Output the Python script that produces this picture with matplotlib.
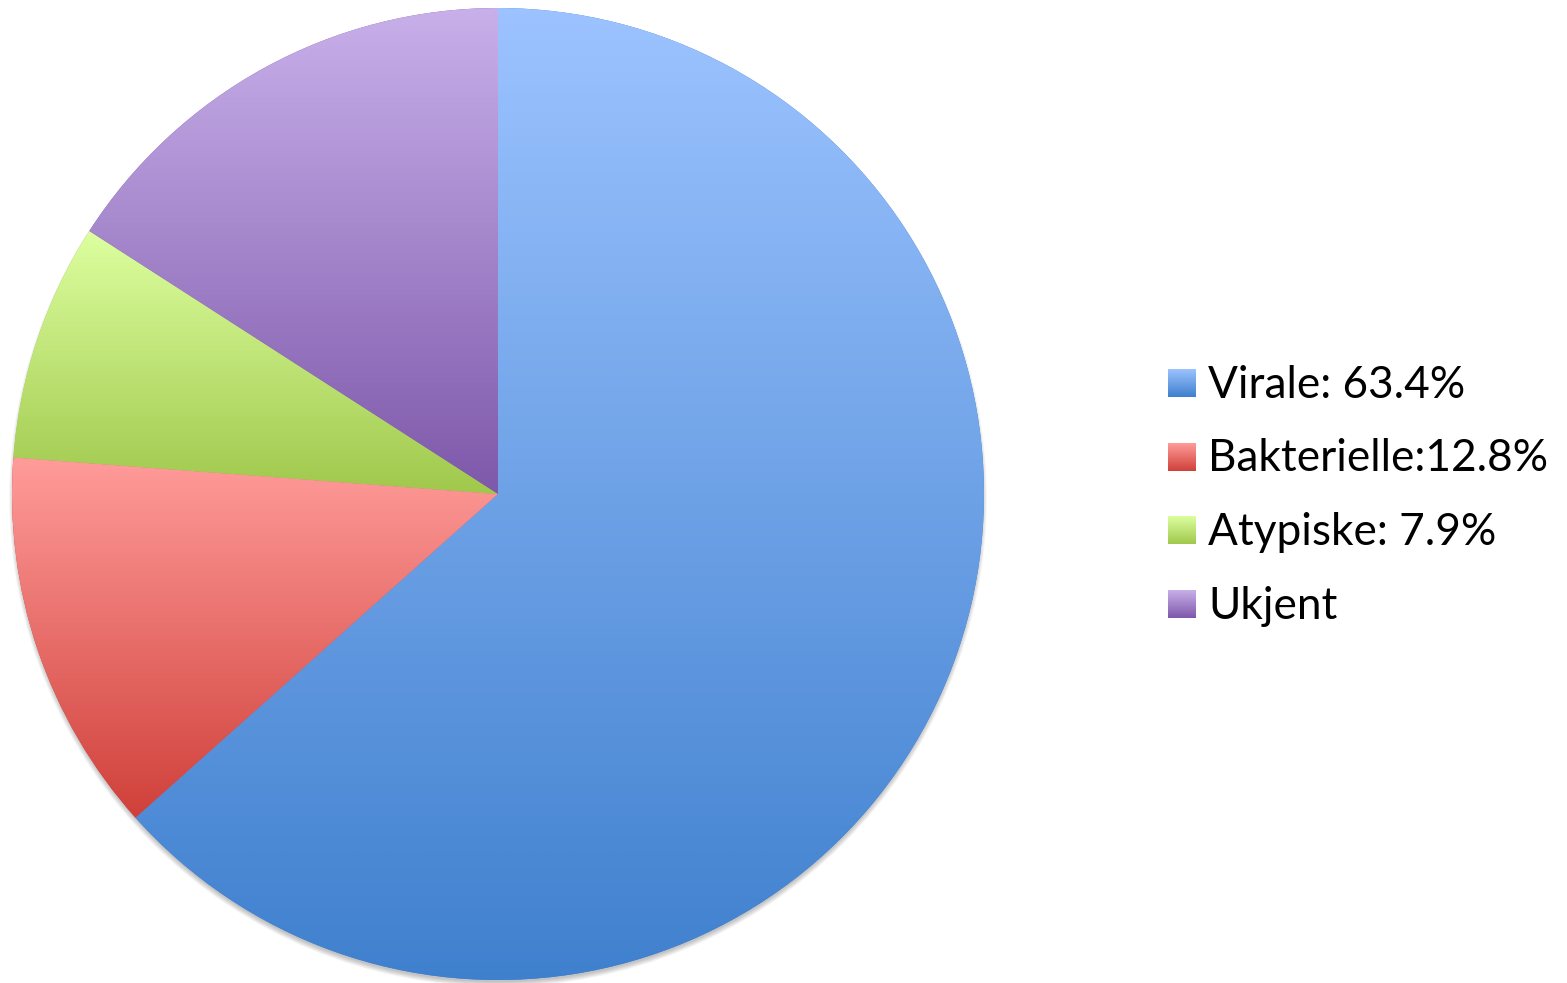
import matplotlib.pyplot as plt
import numpy as np
from matplotlib.colors import LinearSegmentedColormap
from matplotlib.patches import Circle

labels = ['Virale: 63.4%', 'Bakterielle:12.8%', 'Atypiske: 7.9%', 'Ukjent']
values = [63.4, 12.8, 7.9, 15.9]
top_colors = ['#9cc3ff', '#ff9c9a', '#ddffa0', '#c8b0ea']
bottom_colors = ['#3f80ce', '#d0403a', '#a0c84c', '#7e58aa']

W, H = 1567, 983
fig = plt.figure(figsize=(W / 100, H / 100), dpi=100)
ax = fig.add_axes([0, 0, 1, 1])

cx, cy, R = 498, 489, 486

# soft drop shadow under the pie
for k in range(8):
    ax.add_patch(Circle((cx, cy - 4), R - 2 + k * 0.7, color='black', alpha=0.03, lw=0, zorder=0))

wedges, _ = ax.pie(values, startangle=90, counterclock=False,
                   center=(cx, cy), radius=R,
                   wedgeprops=dict(linewidth=0))

grad = np.linspace(0, 1, 256).reshape(-1, 1)


def gradient_fill(extent, c_top, c_bottom, clip=None, z=2):
    cmap = LinearSegmentedColormap.from_list('g', [c_bottom, c_top])
    im = ax.imshow(grad, cmap=cmap, origin='lower', extent=extent,
                   aspect='auto', interpolation='bicubic', zorder=z)
    if clip is not None:
        im.set_clip_path(clip)
    return im


for w, c0, c1 in zip(wedges, top_colors, bottom_colors):
    w.set_facecolor(c1)
    w.set_zorder(1)
    v = w.get_path().vertices
    gradient_fill((v[:, 0].min(), v[:, 0].max(), v[:, 1].min(), v[:, 1].max()),
                  c0, c1, clip=w)

# legend with gradient swatches
box = 28
for i, (lab, c0, c1) in enumerate(zip(labels, top_colors, bottom_colors)):
    yc = H - (383 + i * 73.7)
    gradient_fill((1168, 1168 + box, yc - box / 2, yc + box / 2), c0, c1, z=3)
    ax.text(1208, yc - 2, lab, fontsize=31.8, family='Lato', va='center', ha='left', color='black')

ax.set_xlim(0, W)
ax.set_ylim(0, H)
ax.set_aspect('auto')
ax.axis('off')

fig.savefig('out.png', dpi=100, facecolor='white')
